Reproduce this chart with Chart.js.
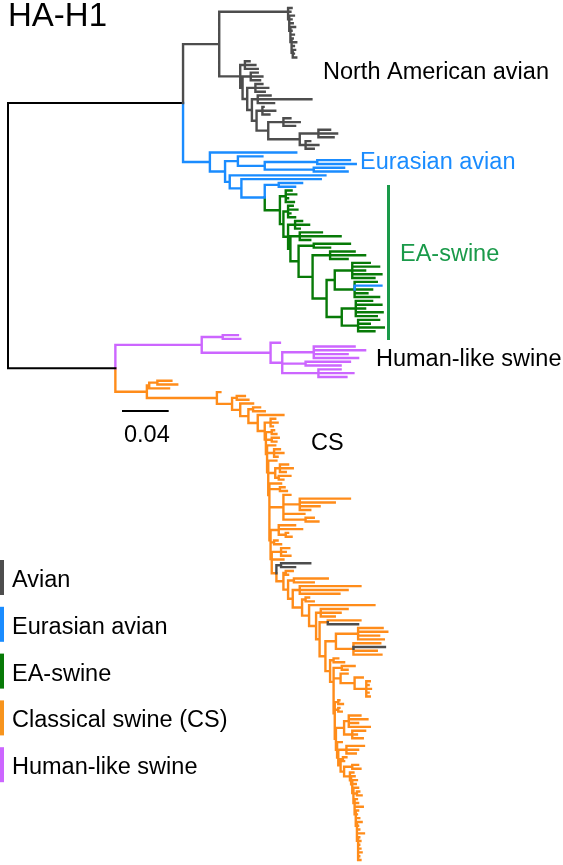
<!DOCTYPE html>
<html><head><meta charset="utf-8">
<script src="https://cdn.jsdelivr.net/npm/chart.js@4.4.1/dist/chart.umd.min.js"></script>
<style>html,body{margin:0;padding:0;background:#fff;}canvas{display:block;}</style>
</head><body>
<canvas id="c" width="563" height="865"></canvas>
<script>
// ---------------- DATA ----------------
// Node depths = distance from root, in units of 0.001 substitutions/site.
// Nested strings: "(child,child,...)depth"; a trailing letter overrides the clade colour of that branch.
const DEPTH_UNIT = 0.001;
const rootDepth = 0;
const avianNodeDepth = 150;     // North American + Eurasian avian ancestor
const swineNodeDepth = 92;      // Human-like + classical swine ancestor
const naNodeDepth = 181;

const naUpperSteps = [[240,"243"],[240,"242"],[241,"245"],[241,"243"],[241,"244"],[242,"246"],[242,"243"],[242,"245"],[243,"244"],[243,"247"],[243,"245"],[244,"246"]];
const naUpperLast = "(245,247)244";
const naLowerSteps = [[199,"(207,212,214)203"],[201,"(214,218,216)208"],[205,"(218,223,220)212"],[209,"(225,260,228)214"],[213,"(219,229,224)218"],[223,"(242,250,246)236"],[250,"(276,282,279)266"]];
const naLowerLast = "(259,266,262)255";

const euSteps = [[173,"247"],[186,"(218,((293,298)265,(288,291)262)220)197"],[190,"272"],[200,"268"],[220,"(252,246)232"]];
const eaSteps = [[233,"(243,247,240,245)238"],[236,"(244,248,242,246)240"],[240,"(252,258,250)246"],[242,"(269,285,259)250"],[249,"(293,276)262"],[261,"(297,306,291)276"],[273,"((310,318,306,320,314)295,(316,320b,312,308,318)297)280"]];
const eaLast = "((312,320,306,321,316)298,(318,310,322,314)300)286";

const humanLikeTree = "((197,199)184,(233,((297,306,291,300)262,(293,285)255,(285,296,290)266)235)225)166";

const csCrownSteps = [[119,"((140,145)128,138)121"],[179,"182"],[192,"(203,206)196"],[199,"210"],[206,"(216,220)210"],[214,"236"]];
const csUpperSteps = [[220,"(229,231,227)225"],[221,"(228,230)226"],[221,"(232,230)226"],[222,"229"],[222,"(233,236,231)228"],[223,"230"],[223,"((240,244,238)233,(242,236)232)229"],[224,"234"],[224,"(237,239)233"],[224,"(242,(293,280,267,259)250,254,(262,266)255)236"],[225,"(246,252,(240,243)238)232"],[225,"(231,234)228"],[226,"(241,238,242)234"],[226,"236"]];
const csMiddleSteps = [[230,"(259g,246g)234g"],[236,"(244,240)238"],[240,"(274,262)245"],[244,"(302,291,284)250"],[252,"(258,262)255"],[258,"314"],[264,"(291,285,280)268"],[267,"(302,300g)274"],[272,"((321,325,318,322)300,(319,323g,316,320)296)281"],[276,"(283,288)279"]];
const csLowerSteps = [[279,"(297,291)286"],[279,"(291,(304,(310,309,311,309,310)307)297)285"],[280,"(284,287)283"],[280,"(284,286)283"],[281,"((302,308,300,310)292,(306,299,304)295)288"],[282,"286"],[283,"(305,300,298)290"],[285,"(290,288)287"]];
const csTailSteps = [[288,"(300,302)295"],[293,"296"],[294,"297"],[295,"299"],[295,"298"],[296,"300"],[296,"(301,303)299"],[297,"299"],[297,"300"],[297,"304"],[298,"300"],[298,"299"],[298,"301"],[299,"303"],[299,"300"],[299,"301"],[299,"305"],[300,"301"],[300,"302"],[300,"301"],[300,"302"],[300,"303"]];
const csLast = "(301,302)300";

const legendNames = ["Avian","Eurasian avian","EA-swine","Classical swine (CS)","Human-like swine"];
const legendKeys = ["g","b","e","o","p"];
const treeLabels = ["North American avian","Eurasian avian","EA-swine","Human-like swine","CS"];
const scaleBarLength = 0.04;
const titleText = "HA-H1";

// ---------------- STYLE ----------------
const COLORS = {k:"#000000", g:"#4d4d4d", b:"#1a8cff", e:"#077a07", o:"#ff8c1a", p:"#cc66ff"};
const LEGEND_COLORS = {g:"#4d4d4d", b:"#1a8cff", e:"#077a07", o:"#f7941d", p:"#cc66ff"};
const FONT = '"Liberation Sans", Arial, Helvetica, sans-serif';

// ---------------- TREE BUILD ----------------
function parseTree(str){
  let i = 0;
  function node(){
    const n = {c:[]};
    if (str[i] === '('){
      i++; n.c.push(node());
      while (str[i] === ','){ i++; n.c.push(node()); }
      i++;
    }
    const m = /^(\d+(?:\.\d+)?)([a-z]?)/.exec(str.slice(i));
    n.d = +m[1]; if (m[2]) n.k = m[2];
    i += m[0].length;
    return n;
  }
  return node();
}
function ladder(steps, last){
  let n = typeof last === 'string' ? parseTree(last) : last;
  for (let j = steps.length - 1; j >= 0; j--) n = {d: steps[j][0], c: [parseTree(steps[j][1]), n]};
  return n;
}
const naClade = {d: naNodeDepth, k:'g', c:[ladder(naUpperSteps, naUpperLast), ladder(naLowerSteps, naLowerLast)]};
const eaClade = ladder(eaSteps, eaLast); eaClade.k = 'e';
const euClade = ladder(euSteps, eaClade); euClade.k = 'b';
const hlClade = parseTree(humanLikeTree); hlClade.k = 'p';
const csClade = ladder([...csCrownSteps, ...csUpperSteps, ...csMiddleSteps, ...csLowerSteps, ...csTailSteps], csLast); csClade.k = 'o';
const root = {d: rootDepth, k:'k', c:[
  {d: avianNodeDepth, k:'k', c:[naClade, euClade]},
  {d: swineNodeDepth, k:'k', c:[hlClade, csClade]}
]};
function paint(n, k){ n.k = n.k || k; n.c.forEach(ch => paint(ch, n.k)); }
paint(root, 'k');
let tipCount = 0;
function layout(n){
  if (!n.c.length){ n.y = tipCount++; }
  else { n.c.forEach(layout); n.y = (n.c[0].y + n.c[n.c.length-1].y) / 2; }
}
layout(root);
const segs = {g:[], b:[], k:[], e:[], p:[], o:[]};
function collect(n, parent){
  if (parent){
    const px = parent.d * DEPTH_UNIT, x = n.d * DEPTH_UNIT;
    segs[n.k].push({x:px, y:parent.y}, {x:px, y:n.y}, {x:x, y:n.y}, {x:x, y:null});
  }
  n.c.forEach(ch => collect(ch, n));
}
collect(root, null);

// ---------------- CHART ----------------
const W = 563, H = 865;
const pxPerUnit = 1167, rootPx = 8;
const xMin = -rootPx / pxPerUnit, xMax = xMin + W / pxPerUnit;
const tipTop = 8, tipBottom = 860;
const sp = (tipBottom - tipTop) / (tipCount - 1);
const yMin = -tipTop / sp, yMax = yMin + H / sp;

const datasets = ['g','b','k','e','p','o'].map(k => ({
  data: segs[k], borderColor: COLORS[k], borderWidth: k === 'k' ? 2 : 2.4, pointRadius: 0,
  borderCapStyle: 'square', borderJoinStyle: 'miter', spanGaps: false, tension: 0, fill: false
}));

const textPlugin = {
  id: 'treeText',
  afterDatasetsDraw(chart){
    const ctx = chart.ctx, xs = chart.scales.x;
    ctx.save();
    ctx.textBaseline = 'alphabetic';
    // title
    ctx.fillStyle = '#000'; ctx.font = '33px ' + FONT;
    ctx.fillText(titleText, 8, 26);
    // clade labels on tree
    ctx.font = '23.5px ' + FONT;
    ctx.fillStyle = '#000'; ctx.fillText(treeLabels[0], 323, 79);
    ctx.fillStyle = COLORS.b; ctx.fillText(treeLabels[1], 360, 169);
    ctx.fillStyle = '#1a9a4a'; ctx.fillText(treeLabels[2], 400, 261);
    ctx.fillStyle = '#000'; ctx.fillText(treeLabels[3], 376, 366);
    ctx.fillText(treeLabels[4], 311, 450);
    // EA-swine bracket
    ctx.fillStyle = '#1a9a4a'; ctx.fillRect(387, 185, 3, 155);
    // scale bar
    const len = xs.getPixelForValue(scaleBarLength) - xs.getPixelForValue(0);
    ctx.fillStyle = '#000'; ctx.fillRect(122, 410, len, 2);
    ctx.font = '23.5px ' + FONT;
    ctx.fillText(String(scaleBarLength), 124, 442);
    // legend
    const y0 = 560, step = 46.8;
    legendNames.forEach((name, i) => {
      const y = y0 + i * step;
      ctx.fillStyle = LEGEND_COLORS[legendKeys[i]];
      ctx.fillRect(0, y, 4, 35);
      ctx.fillStyle = '#000';
      ctx.fillText(name, 12, y + 27);
    });
    ctx.restore();
  }
};

new Chart(document.getElementById('c'), {
  type: 'line',
  data: {datasets},
  options: {
    responsive: false, animation: false, events: [],
    layout: {padding: 0},
    plugins: {legend: {display: false}, tooltip: {enabled: false}},
    scales: {
      x: {type: 'linear', display: false, min: xMin, max: xMax},
      y: {type: 'linear', display: false, reverse: true, min: yMin, max: yMax}
    }
  },
  plugins: [textPlugin]
});
</script>
</body></html>
